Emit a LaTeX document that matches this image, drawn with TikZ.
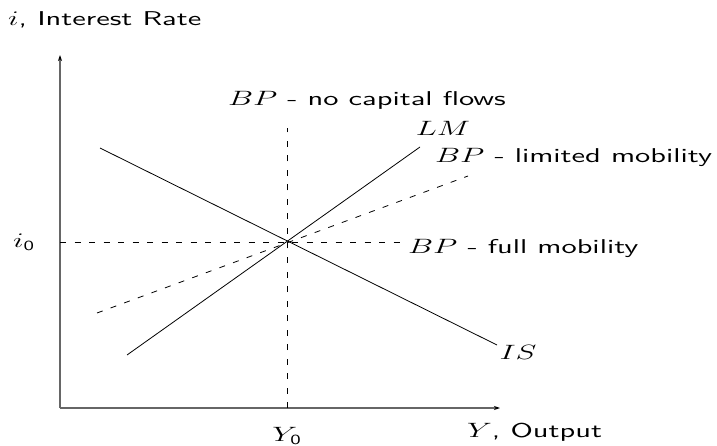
\documentclass[tikz,border=0pt]{standalone}
\usepackage{fontspec}
\usepackage{graphicx}
\usetikzlibrary{arrows.meta}
\newfontfamily\refsans{lmsans10-regular.otf}
\newcommand{\wtxt}[1]{\scalebox{1.52}[1]{#1}}
\begin{document}
\begin{tikzpicture}[x=1pt,y=-1pt,
  axis/.style={draw=black!60,line width=1.3pt,-{Stealth[length=6pt,width=4pt,black]}},
  curve/.style={draw=black,line width=0.8pt},
  dcurve/.style={draw=black,line width=0.8pt,dash pattern=on 6pt off 8.5pt},
  lab/.style={font=\fontsize{20}{24}\selectfont\refsans,inner sep=0pt}]
\useasboundingbox (0,0) rectangle (717,446);
\coordinate (O) at (60,408);
\coordinate (ytop) at (60,55);
\coordinate (xend) at (500,408);
\draw[axis] (O) -- (ytop);
\draw[axis] (O) -- (xend);
\node[lab,anchor=west] (ylab) at (8,20) {\wtxt{$i$, Interest Rate}};
\node[lab,anchor=west] (xlab) at (467,432) {\wtxt{$Y$, Output}};
\node[lab] (i0) at (24,242) {\wtxt{$i_{\mathsf{0}}$}};
\node[lab] (y0) at (287,436) {\wtxt{$Y_{\mathsf{0}}$}};
% points
\coordinate (E) at (287,242);
\coordinate (hl) at (60,242);
\coordinate (hr) at (402,242);
\coordinate (vt) at (287,128);
\coordinate (vb) at (287,408);
\coordinate (lm1) at (127,355);
\coordinate (lm2) at (420,147);
\coordinate (is1) at (100,148);
\coordinate (is2) at (497,345);
\coordinate (bl1) at (97,313);
\coordinate (bl2) at (468,176);
\draw[dcurve] (hl) -- (hr);
\draw[dcurve] (vb) -- (vt);
\draw[dcurve] (bl1) -- (bl2);
\draw[curve] (lm1) -- (lm2);
\draw[curve] (is1) -- (is2);
\node[lab] (bpn) at (367,100) {\wtxt{$BP$ - no capital flows}};
\node[lab] (lm) at (443,128) {\wtxt{$LM$}};
\node[lab,anchor=west] (bpl) at (435,157) {\wtxt{$BP$ - limited mobility}};
\node[lab,anchor=west] (bpf) at (408,248) {\wtxt{$BP$ - full mobility}};
\node[lab] (is) at (518,352) {\wtxt{$IS$}};
\end{tikzpicture}
\end{document}
